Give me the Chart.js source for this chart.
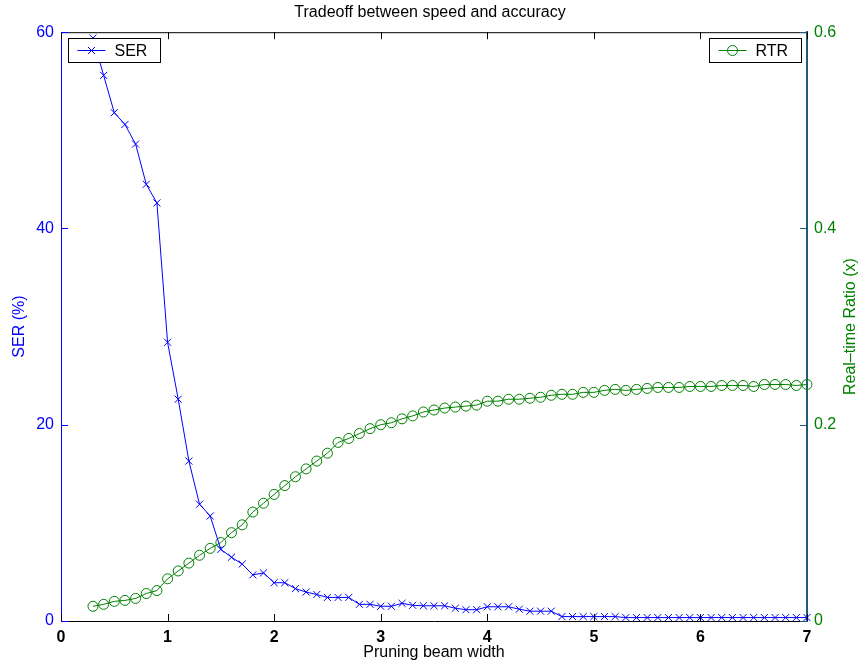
<!DOCTYPE html>
<html>
<head>
<meta charset="utf-8">
<script src="https://cdn.jsdelivr.net/npm/chart.js@4/dist/chart.umd.min.js"></script>
<style>
  html, body { margin: 0; padding: 0; background: #ffffff; }
  #wrap { width: 860px; height: 665px; }
</style>
</head>
<body>
<div id="wrap"><canvas id="c" width="860" height="665"></canvas></div>
<script>
// Pruning beam widths that were evaluated
const beamWidth = [
  0.3, 0.4, 0.5, 0.6, 0.7, 0.8, 0.9, 1.0, 1.1, 1.2,
  1.3, 1.4, 1.5, 1.6, 1.7, 1.8, 1.9, 2.0, 2.1, 2.2,
  2.3, 2.4, 2.5, 2.6, 2.7, 2.8, 2.9, 3.0, 3.1, 3.2,
  3.3, 3.4, 3.5, 3.6, 3.7, 3.8, 3.9, 4.0, 4.1, 4.2,
  4.3, 4.4, 4.5, 4.6, 4.7, 4.8, 4.9, 5.0, 5.1, 5.2,
  5.3, 5.4, 5.5, 5.6, 5.7, 5.8, 5.9, 6.0, 6.1, 6.2,
  6.3, 6.4, 6.5, 6.6, 6.7, 6.8, 6.9, 7.0
];

// Sentence error rate (%)
const serValues = [
  59.4, 55.6, 51.8, 50.6, 48.6, 44.5, 42.6, 28.4, 22.6, 16.3,
  11.9, 10.7, 7.3, 6.5, 5.8, 4.7, 4.9, 3.9, 3.9, 3.3,
  2.95, 2.7, 2.4, 2.4, 2.4, 1.7, 1.7, 1.5, 1.5, 1.8,
  1.6, 1.55, 1.55, 1.55, 1.3, 1.15, 1.15, 1.45, 1.45, 1.45,
  1.2, 1.0, 1.0, 1.0, 0.45, 0.45, 0.45, 0.45, 0.45, 0.45,
  0.35, 0.35, 0.35, 0.35, 0.35, 0.35, 0.35, 0.35, 0.35, 0.35,
  0.35, 0.35, 0.35, 0.35, 0.35, 0.35, 0.35, 0.35
];

// Real-time ratio (x)
const rtrValues = [
  0.015, 0.017, 0.020, 0.021, 0.023, 0.028, 0.031, 0.043, 0.051, 0.059,
  0.067, 0.074, 0.080, 0.090, 0.098, 0.111, 0.120, 0.129, 0.138, 0.147,
  0.155, 0.163, 0.171, 0.182, 0.186, 0.191, 0.196, 0.200, 0.202, 0.206,
  0.209, 0.213, 0.215, 0.217, 0.218, 0.219, 0.220, 0.224, 0.224, 0.226,
  0.226, 0.227, 0.228, 0.230, 0.231, 0.231, 0.233, 0.233, 0.235, 0.236,
  0.235, 0.236, 0.237, 0.238, 0.238, 0.238, 0.239, 0.239, 0.239, 0.240,
  0.240, 0.240, 0.239, 0.241, 0.241, 0.241, 0.240, 0.241
];

const xTicks = [0, 1, 2, 3, 4, 5, 6, 7];
const serTicks = [0, 20, 40, 60];
const rtrTicks = [0, 0.2, 0.4, 0.6];
const rtrTitle = 'Real–time Ratio (x)';

const FONT = "'Liberation Sans', Arial, Helvetica, sans-serif";
const BLUE = '#0000ff';
const GREEN = '#008000';
const RIGHT_AXIS = '#1d5b79';
const TICK_LEN = 7;

const serPoints = beamWidth.map((x, i) => ({ x: x, y: serValues[i] }));
const rtrPoints = beamWidth.map((x, i) => ({ x: x, y: rtrValues[i] }));

function fixedTicks(list) {
  return function (scale) { scale.ticks = list.map(v => ({ value: v })); };
}

// Inward tick marks on all four sides plus the top frame line
const frameTicks = {
  id: 'frameTicks',
  afterDatasetsDraw(chart) {
    const { ctx, chartArea: a, scales } = chart;
    ctx.save();
    ctx.lineWidth = 1;
    ctx.strokeStyle = '#000000';
    ctx.beginPath();
    ctx.moveTo(a.left, a.top + 0.5);
    ctx.lineTo(a.right, a.top + 0.5);
    ctx.stroke();
    xTicks.forEach(v => {
      const px = Math.round(scales.x.getPixelForValue(v)) + 0.5;
      ctx.beginPath();
      ctx.moveTo(px, a.bottom);
      ctx.lineTo(px, a.bottom - TICK_LEN);
      ctx.moveTo(px, a.top);
      ctx.lineTo(px, a.top + TICK_LEN);
      ctx.stroke();
    });
    ctx.strokeStyle = BLUE;
    serTicks.forEach(v => {
      const py = Math.round(scales.y.getPixelForValue(v)) + 0.5;
      ctx.beginPath();
      ctx.moveTo(a.left, py);
      ctx.lineTo(a.left + TICK_LEN, py);
      ctx.stroke();
    });
    ctx.strokeStyle = RIGHT_AXIS;
    rtrTicks.forEach(v => {
      const py = Math.round(scales.y1.getPixelForValue(v)) + 0.5;
      ctx.beginPath();
      ctx.moveTo(a.right, py);
      ctx.lineTo(a.right - TICK_LEN, py);
      ctx.stroke();
    });
    ctx.restore();
  }
};

// Right-axis title, reading bottom to top like the left one
const rightTitle = {
  id: 'rightTitle',
  afterDraw(chart) {
    const { ctx, chartArea: a } = chart;
    ctx.save();
    ctx.translate(851, (a.top + a.bottom) / 2);
    ctx.rotate(-Math.PI / 2);
    ctx.fillStyle = GREEN;
    ctx.font = '16px ' + FONT;
    ctx.textAlign = 'center';
    ctx.textBaseline = 'middle';
    ctx.fillText(rtrTitle, 0, 0);
    ctx.restore();
  }
};

function drawMarker(ctx, style, x, y, r, color) {
  ctx.strokeStyle = color;
  ctx.lineWidth = 1;
  ctx.beginPath();
  if (style === 'circle') {
    ctx.arc(x, y, r, 0, Math.PI * 2);
  } else {
    const d = r * Math.SQRT1_2;
    ctx.moveTo(x - d, y - d); ctx.lineTo(x + d, y + d);
    ctx.moveTo(x - d, y + d); ctx.lineTo(x + d, y - d);
  }
  ctx.stroke();
}

// Two separate legend boxes: one per axis, in the top corners
const cornerLegends = {
  id: 'cornerLegends',
  afterDraw(chart) {
    const { ctx, chartArea: a } = chart;
    const boxW = 92, boxH = 24;
    const spots = [a.left + 7, a.right - 6 - boxW];
    ctx.save();
    chart.data.datasets.forEach((ds, i) => {
      const bx = Math.round(spots[i]) + 0.5;
      const by = Math.round(a.top + 6) + 0.5;
      ctx.fillStyle = '#ffffff';
      ctx.fillRect(bx, by, boxW, boxH);
      ctx.strokeStyle = '#000000';
      ctx.lineWidth = 1;
      ctx.strokeRect(bx, by, boxW, boxH);
      const cy = by + boxH / 2;
      ctx.strokeStyle = ds.borderColor;
      ctx.beginPath();
      ctx.moveTo(bx + 9, cy);
      ctx.lineTo(bx + 37, cy);
      ctx.stroke();
      drawMarker(ctx, ds.pointStyle, bx + 23, cy, ds.pointRadius, ds.borderColor);
      ctx.fillStyle = '#000000';
      ctx.font = '16px ' + FONT;
      ctx.textAlign = 'left';
      ctx.textBaseline = 'middle';
      ctx.fillText(ds.label, bx + 46, cy + 1);
    });
    ctx.restore();
  }
};

new Chart(document.getElementById('c'), {
  type: 'line',
  data: {
    datasets: [
      {
        label: 'SER',
        data: serPoints,
        yAxisID: 'y',
        borderColor: BLUE,
        backgroundColor: 'rgba(0,0,0,0)',
        borderWidth: 1,
        pointStyle: 'crossRot',
        pointRadius: 5,
        pointBorderWidth: 1,
        pointBorderColor: BLUE,
        tension: 0,
        clip: false
      },
      {
        label: 'RTR',
        data: rtrPoints,
        yAxisID: 'y1',
        borderColor: GREEN,
        backgroundColor: 'rgba(0,0,0,0)',
        borderWidth: 1,
        pointStyle: 'circle',
        pointRadius: 5,
        pointBorderWidth: 1,
        pointBorderColor: GREEN,
        pointBackgroundColor: 'rgba(0,0,0,0)',
        tension: 0,
        clip: false
      }
    ]
  },
  options: {
    responsive: false,
    devicePixelRatio: 1,
    animation: false,
    layout: { padding: 0 },
    plugins: {
      legend: { display: false },
      tooltip: { enabled: false },
      title: {
        display: true,
        text: 'Tradeoff between speed and accuracy',
        color: '#000000',
        font: { family: FONT, size: 16, weight: 'normal', lineHeight: 1.2 },
        padding: { top: 3, bottom: 10 }
      }
    },
    scales: {
      x: {
        type: 'linear',
        position: 'bottom',
        min: 0,
        max: 7,
        afterBuildTicks: fixedTicks(xTicks),
        afterFit(scale) { scale.height = 44; },
        grid: { display: false, drawTicks: false },
        border: { display: true, color: '#000000', width: 1 },
        ticks: {
          color: '#000000',
          padding: 7,
          font: { family: FONT, size: 16, weight: 'bold' },
          maxRotation: 0
        },
        title: {
          display: true,
          text: 'Pruning beam width',
          color: '#000000',
          font: { family: FONT, size: 16 },
          padding: { top: 0, bottom: 3 }
        }
      },
      y: {
        type: 'linear',
        position: 'left',
        min: 0,
        max: 60,
        afterBuildTicks: fixedTicks(serTicks),
        afterFit(scale) { scale.width = 61; },
        grid: { display: false, drawTicks: false },
        border: { display: true, color: BLUE, width: 1 },
        ticks: {
          color: BLUE,
          padding: 7,
          font: { family: FONT, size: 16 }
        },
        title: {
          display: true,
          text: 'SER (%)',
          color: BLUE,
          font: { family: FONT, size: 16 },
          padding: { top: 10, bottom: 0 }
        }
      },
      y1: {
        type: 'linear',
        position: 'right',
        min: 0,
        max: 0.6,
        afterBuildTicks: fixedTicks(rtrTicks),
        afterFit(scale) { scale.width = 53; },
        grid: { display: false, drawTicks: false },
        border: { display: true, color: RIGHT_AXIS, width: 2 },
        ticks: {
          color: GREEN,
          padding: 7,
          font: { family: FONT, size: 16 },
          callback: v => String(Math.round(v * 10) / 10)
        },
        title: { display: false }
      }
    }
  },
  plugins: [frameTicks, rightTitle, cornerLegends]
});
</script>
</body>
</html>
